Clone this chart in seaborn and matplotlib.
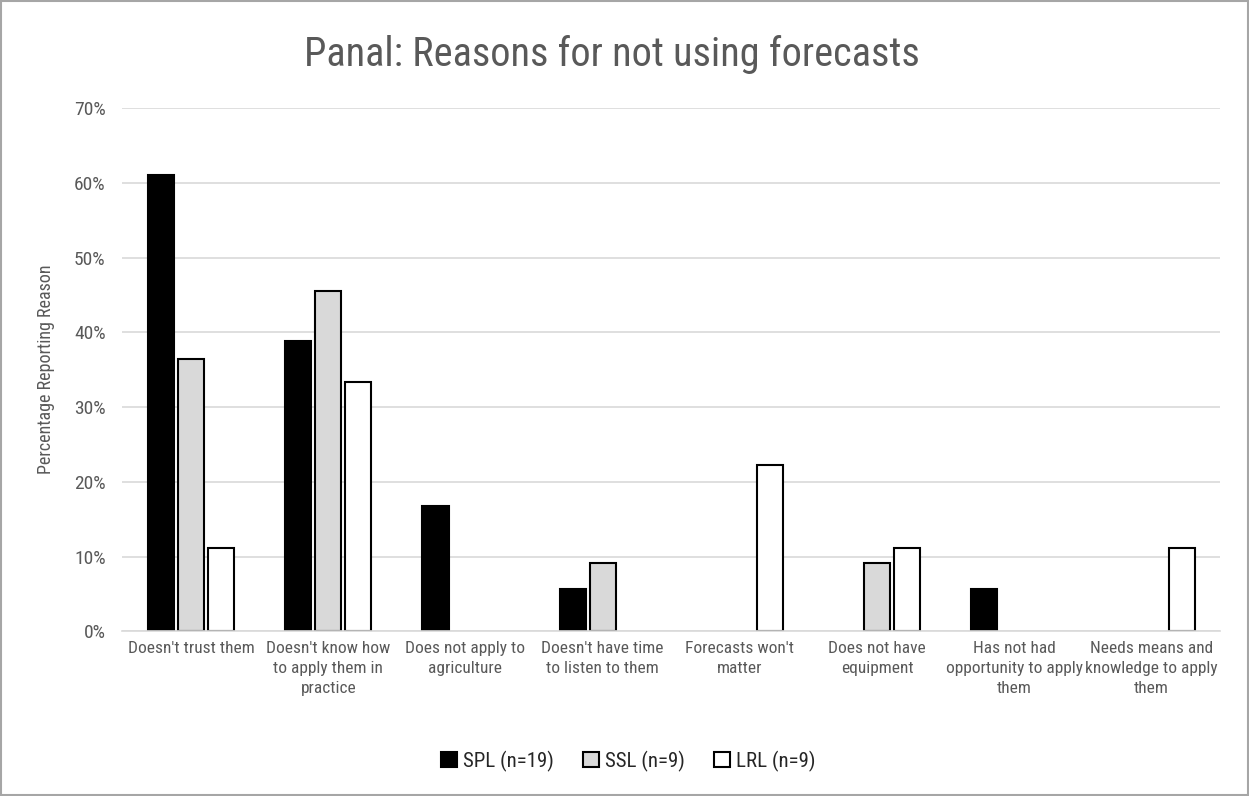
import matplotlib
matplotlib.use("Agg")
import matplotlib.pyplot as plt
import seaborn as sns
import pandas as pd
from matplotlib.patches import Rectangle, Patch
from matplotlib.ticker import PercentFormatter

categories = [
    "Doesn't trust them",
    "Doesn't know how\nto apply them in\npractice",
    "Does not apply to\nagriculture",
    "Doesn't have time\nto listen to them",
    "Forecasts won't\nmatter",
    "Does not have\nequipment",
    "Has not had\nopportunity to apply\nthem",
    "Needs means and\nknowledge to apply\nthem",
]
series_names = ["SPL (n=19)", "SSL (n=9)", "LRL (n=9)"]
spl = [0.611, 0.389, 0.167, 0.056, 0.0, 0.0, 0.056, 0.0]
ssl = [0.364, 0.455, 0.0, 0.091, 0.0, 0.091, 0.0, 0.0]
lrl = [0.111, 0.333, 0.0, 0.0, 0.222, 0.111, 0.0, 0.111]
colors = ["#000000", "#d9d9d9", "#ffffff"]

rows = []
for name, vals in zip(series_names, [spl, ssl, lrl]):
    for c, v in zip(categories, vals):
        rows.append({"Reason": c, "Group": name, "Value": v})
df = pd.DataFrame(rows)

sns.set_theme(style="white")
plt.rcParams['font.family'] = ['Roboto Condensed', 'DejaVu Sans']
plt.rcParams['font.stretch'] = 'condensed'
txt = "#595959"

fig = plt.figure(figsize=(12.49, 7.96), dpi=100)
ax = fig.add_axes([0.098, 0.207, 0.879, 0.657])

sns.barplot(data=df, x="Reason", y="Value", hue="Group", order=categories,
            hue_order=series_names, palette=colors, width=0.656, gap=0.13,
            edgecolor="black", linewidth=1.5, ax=ax, legend=False)

for p in ax.patches:
    if p.get_height() == 0:
        p.set_visible(False)

ax.set_ylim(0, 0.7)
ax.set_yticks([i / 10 for i in range(8)])
ax.yaxis.set_major_formatter(PercentFormatter(1.0, decimals=0))
ax.grid(axis="y", color="#d9d9d9", linewidth=1.2)
ax.set_axisbelow(True)
for s in ["top", "right", "left"]:
    ax.spines[s].set_visible(False)
ax.spines["bottom"].set_color("#d9d9d9")
ax.spines["bottom"].set_linewidth(1.2)
ax.tick_params(axis="y", length=0, colors=txt, labelsize=14, pad=12)
ax.tick_params(axis="x", length=0, colors=txt, labelsize=12.5, pad=7)
for lab in ax.get_xticklabels():
    lab.set_linespacing(1.4)
ax.set_xlabel("")
ax.set_ylabel("Percentage Reporting Reason", color=txt, fontsize=13, labelpad=14)
fig.text(0.49, 0.932, "Panal: Reasons for not using forecasts", color=txt,
         fontsize=29, ha="center", va="center")

handles = [Patch(facecolor=c, edgecolor="black", linewidth=1.5) for c in colors]
leg = fig.legend(handles, series_names, loc="center", bbox_to_anchor=(0.503, 0.044), ncol=3,
                 frameon=False, fontsize=15, handlelength=0.75, handleheight=0.75,
                 handletextpad=0.3, columnspacing=1.4)
for t in leg.get_texts():
    t.set_color("#262626")

fig.patches.append(Rectangle((0.0008, 0.001), 0.9984, 0.998, transform=fig.transFigure,
                             fill=False, edgecolor="#a6a6a6", linewidth=1.5))

fig.savefig("out.png", dpi=100)
